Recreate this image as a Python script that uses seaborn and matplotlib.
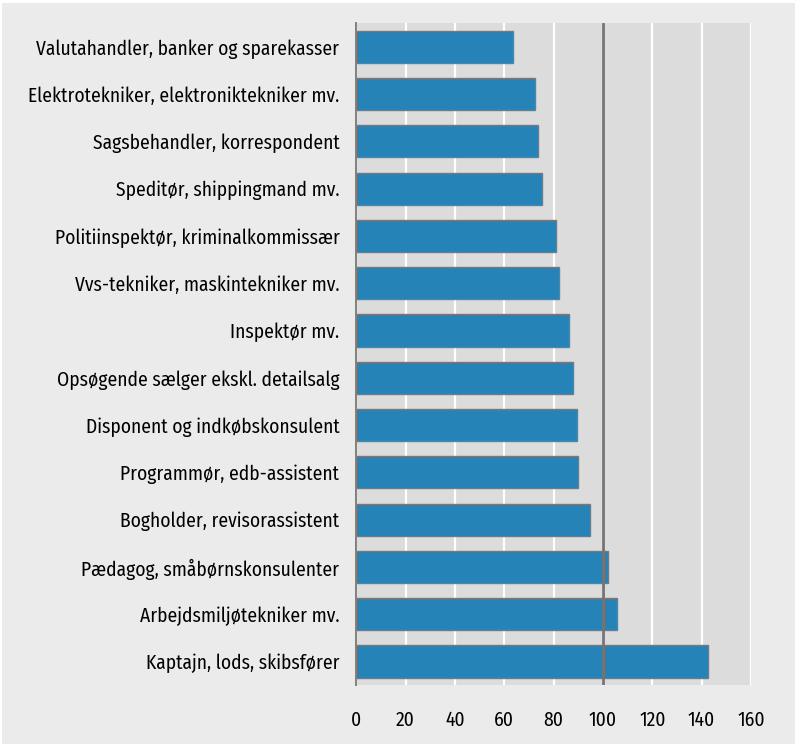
import numpy as np
import pandas as pd
import matplotlib
matplotlib.use('Agg')
import matplotlib.pyplot as plt
import seaborn as sns
from matplotlib.patches import Rectangle

# Occupations (top to bottom) and index values
occupations = ['Valutahandler, banker og sparekasser',
               'Elektrotekniker, elektroniktekniker mv.',
               'Sagsbehandler, korrespondent',
               'Speditør, shippingmand mv.',
               'Politiinspektør, kriminalkommissær',
               'Vvs-tekniker, maskintekniker mv.',
               'Inspektør mv.',
               'Opsøgende sælger ekskl. detailsalg',
               'Disponent og indkøbskonsulent',
               'Programmør, edb-assistent',
               'Bogholder, revisorassistent',
               'Pædagog, småbørnskonsulenter',
               'Arbejdsmiljøtekniker mv.',
               'Kaptajn, lods, skibsfører']
index_values = [63.6, 72.3, 73.8, 75.3, 80.8, 82.3, 86.2,
                87.8, 89.3, 90.1, 94.9, 102.0, 105.8, 142.6]
x_ticks = [0, 20, 40, 60, 80, 100, 120, 140, 160]
reference_value = 100

df = pd.DataFrame({'occupation': occupations, 'value': index_values})

sns.set_style('white')
plt.rcParams['font.family'] = ['Fira Sans Condensed', 'Roboto Condensed', 'DejaVu Sans']

fig = plt.figure(figsize=(7.95, 7.44), dpi=100, facecolor='white')
# grey page background with thin white border top/left
fig.patches.append(Rectangle((0.003, 0), 0.997, 0.996, transform=fig.transFigure,
                             facecolor='#ebebeb', edgecolor='none', zorder=-10))
ax = fig.add_axes([0.448, 0.079, 0.4966, 0.890])
ax.set_facecolor('#dcdcdc')

sns.barplot(data=df, x='value', y='occupation', ax=ax, color='#2583b7',
            saturation=1, width=0.68, edgecolor='#6f7c86', linewidth=1.0,
            zorder=3)

ax.set_xlim(0, 160)
ax.set_xticks(x_ticks)
ax.set_xticklabels([str(t) for t in x_ticks])
ax.xaxis.grid(True, color='white', linewidth=1.6, zorder=1)
ax.set_axisbelow(True)
ax.axvline(reference_value, color='#747474', linewidth=2.0, zorder=4)

ax.set_xlabel('')
ax.set_ylabel('')
for s in ['top', 'right', 'bottom']:
    ax.spines[s].set_visible(False)
ax.spines['left'].set_color('#808080')
ax.spines['left'].set_linewidth(1.4)
ax.spines['left'].set_zorder(5)

ax.tick_params(axis='both', length=0, labelsize=14, colors='black')
ax.tick_params(axis='x', pad=18)
ax.tick_params(axis='y', pad=12)

fig.savefig('out.png', dpi=100, facecolor=fig.get_facecolor())
